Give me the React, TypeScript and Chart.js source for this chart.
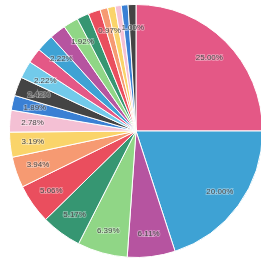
import React, { useEffect, useRef } from "react";
import { Chart, registerables } from "chart.js";

Chart.register(...registerables);

const categories = [
  "A", "B", "C", "D", "E", "F", "G", "H", "I", "J", "K", "L",
  "M", "N", "O", "P", "Q", "R", "S", "T", "U", "V", "W",
];

const values = [
  25.0, 20.0, 6.11, 6.39, 5.17, 5.06, 3.94, 3.19, 2.78, 1.89, 2.42, 2.22,
  1.94, 2.22, 2.08, 1.92, 1.53, 1.56, 0.97, 0.97, 0.78, 0.86, 1.0,
];

const palette = [
  "rgb(228,88,134)",
  "rgb(62,162,212)",
  "rgb(182,84,160)",
  "rgb(144,214,134)",
  "rgb(54,150,114)",
  "rgb(234,78,94)",
  "rgb(246,154,114)",
  "rgb(250,212,106)",
  "rgb(244,192,212)",
  "rgb(58,128,212)",
  "rgb(68,68,68)",
  "rgb(114,202,234)",
];

const labelPlugin = {
  id: "sliceLabels",
  afterDatasetsDraw(chart: any) {
    const ctx = chart.ctx;
    const meta = chart.getDatasetMeta(0);
    const data = chart.data.datasets[0].data as number[];
    const total = data.reduce((a, b) => a + b, 0);
    const boxes: { x1: number; y1: number; x2: number; y2: number }[] = [];
    ctx.save();
    ctx.font = "8px 'Liberation Sans', Arial, sans-serif";
    ctx.textAlign = "center";
    ctx.textBaseline = "middle";
    meta.data.forEach((arc: any, i: number) => {
      const { x, y, startAngle, endAngle, outerRadius } = arc.getProps(
        ["x", "y", "startAngle", "endAngle", "outerRadius"],
        true
      );
      const mid = (startAngle + endAngle) / 2;
      const r = outerRadius * 0.82;
      const lx = x + Math.cos(mid) * r;
      const ly = y + Math.sin(mid) * r;
      const text = ((data[i] / total) * 100).toFixed(2) + "%";
      const w = ctx.measureText(text).width;
      const h = 12;
      const box = { x1: lx - w / 2, y1: ly - h / 2, x2: lx + w / 2, y2: ly + h / 2 };
      const hit = boxes.some(
        (b) => !(box.x2 < b.x1 || box.x1 > b.x2 || box.y2 < b.y1 || box.y1 > b.y2)
      );
      if (hit) return;
      boxes.push(box);
      ctx.lineWidth = 2;
      ctx.strokeStyle = "rgba(255,255,255,0.35)";
      ctx.strokeText(text, lx, ly);
      ctx.fillStyle = "#4a4a4a";
      ctx.fillText(text, lx, ly);
    });
    ctx.restore();
  },
};

export default function App() {
  const ref = useRef<HTMLCanvasElement>(null);
  useEffect(() => {
    document.body.style.margin = "0";
    document.body.style.overflow = "hidden";
    const chart = new Chart(ref.current!, {
      type: "pie",
      data: {
        labels: categories,
        datasets: [
          {
            data: values,
            backgroundColor: categories.map((_, i) => palette[i % palette.length]),
            borderColor: "#fff",
            borderWidth: 1,
          },
        ],
      },
      options: {
        responsive: false,
        animation: false,
        layout: { padding: 0 },
        plugins: {
          legend: { display: false },
          tooltip: { enabled: false },
        },
      },
      plugins: [labelPlugin],
    });
    return () => chart.destroy();
  }, []);
  return (
    <div style={{ position: "fixed", left: 9, top: 4, width: 254, height: 254 }}>
      <canvas ref={ref} width={254} height={254} />
    </div>
  );
}
